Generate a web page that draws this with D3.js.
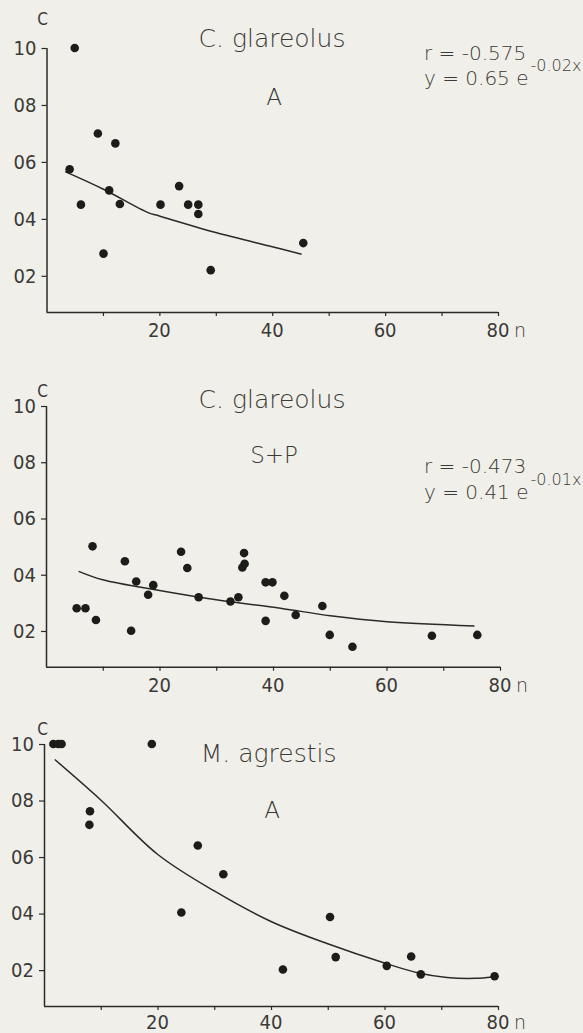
<!DOCTYPE html>
<html>
<head>
<meta charset="utf-8">
<script src="https://cdn.jsdelivr.net/npm/d3@7"></script>
<style>
  html, body { margin: 0; padding: 0; background: #f1efe9; }
  svg { display: block; }
  text { font-family: "DejaVu Sans", Lato, sans-serif; font-weight: 200; fill: #3a3a38; }
  .tick text, .tk { font-family: "DejaVu Sans Condensed", "DejaVu Sans", sans-serif; font-weight: 200; }
</style>
</head>
<body>
<svg id="chart" width="583" height="1033"></svg>
<script>
// ---------- DATA ----------
const xTicks = [10, 20, 30, 40, 50, 60, 70, 80];
const xTickLabels = ["", "20", "", "40", "", "60", "", "80"];
const yTicks = [0.2, 0.4, 0.6, 0.8, 1.0];
const yTickLabels = ["02", "04", "06", "08", "10"];

const panelTitles = ["C. glareolus", "C. glareolus", "M. agrestis"];
const panelSubtitles = ["A", "S+P", "A"];
const panelR = ["r = -0.575", "r = -0.473", ""];
const panelEqMain = ["y = 0.65 e", "y = 0.41 e", ""];
const panelEqExp = ["-0.02x", "-0.01x", ""];

// C. glareolus, A
const p1X = [5, 9.1, 12.2, 4.1, 11.1, 6.1, 13.0, 20.2, 23.5, 25.1, 26.9, 26.9, 10.1, 29.1, 45.5];
const p1Y = [1.0, 0.70, 0.665, 0.574, 0.50, 0.45, 0.452, 0.45, 0.515, 0.45, 0.45, 0.417, 0.278, 0.22, 0.315];
const p1FitX = [3.3, 10, 18, 20, 30, 40, 45.2];
const p1FitY = [0.566, 0.505, 0.422, 0.41, 0.352, 0.302, 0.276];

// C. glareolus, S+P
const p2X = [5.4, 6.95, 8.2, 8.8, 13.9, 15.0, 15.9, 18.0, 18.9, 23.8, 24.9, 26.9, 32.5, 33.9, 34.9, 35.0, 34.6, 38.7, 39.9, 38.7, 42.0, 44.0, 48.7, 50.0, 54.0, 68.0, 76.0];
const p2Y = [0.281, 0.281, 0.501, 0.239, 0.448, 0.201, 0.376, 0.329, 0.363, 0.482, 0.424, 0.32, 0.305, 0.32, 0.477, 0.439, 0.426, 0.373, 0.373, 0.236, 0.325, 0.257, 0.289, 0.186, 0.144, 0.183, 0.186];
const p2FitX = [5.75, 10, 20, 30, 41.3, 50.1, 60.1, 75.5];
const p2FitY = [0.412, 0.382, 0.344, 0.311, 0.281, 0.254, 0.233, 0.218];

// M. agrestis, A
const p3X = [1.65, 2.5, 3.1, 19.0, 8.1, 8.0, 27.1, 31.6, 24.2, 42.1, 50.4, 51.4, 60.4, 64.7, 66.4, 79.4];
const p3Y = [1.0, 1.0, 1.0, 1.0, 0.762, 0.714, 0.641, 0.539, 0.404, 0.202, 0.388, 0.246, 0.215, 0.248, 0.185, 0.178];
const p3FitX = [1.9, 10, 20, 30, 40, 50, 60, 66, 71, 76, 79];
const p3FitY = [0.945, 0.802, 0.61, 0.48, 0.372, 0.293, 0.225, 0.19, 0.174, 0.171, 0.176];

const xDomain = [0, 80];
const yDomain = [0.073, 1.0];

// ---------- LAYOUT ----------
const layout = [
  { xr: [46.5, 498], yr: [312, 48], c: [42.7, 25], title: [272, 47], sub: [274, 105], r: [424, 60], eq: [424, 85] },
  { xr: [46, 500], yr: [666.7, 406], c: [42.7, 397], title: [272, 408], sub: [274, 463], r: [424, 473], eq: [424, 499] },
  { xr: [44, 498], yr: [1006, 744], c: [42.7, 735], title: [268.6, 762], sub: [272, 818], r: null, eq: null }
];

const pointsX = [p1X, p2X, p3X];
const pointsY = [p1Y, p2Y, p3Y];
const fitX = [p1FitX, p2FitX, p3FitX];
const fitY = [p1FitY, p2FitY, p3FitY];

const svg = d3.select("#chart");
const ink = "#2a2a28";

layout.forEach((L, i) => {
  const x = d3.scaleLinear().domain(xDomain).range(L.xr);
  const y = d3.scaleLinear().domain(yDomain).range(L.yr);
  const g = svg.append("g");
  const labY = Math.min(L.yr[0] + 25, 1029);

  // x axis
  const xa = g.append("g")
    .attr("transform", `translate(0,${L.yr[0]})`)
    .call(d3.axisBottom(x).tickValues(xTicks)
      .tickFormat("").tickSize(4).tickSizeOuter(0));
  xa.select(".domain").attr("stroke", ink).attr("stroke-width", 1.5)
    .attr("d", `M${x(0)},0.5H${x(80)}`);
  xa.selectAll(".tick line").attr("stroke", ink).attr("stroke-width", 1.2);
  g.selectAll("text.xl").data(xTicks).enter().append("text")
    .attr("class", "xl tk")
    .attr("x", d => x(d)).attr("y", labY).attr("text-anchor", "middle")
    .style("font-size", "20px").text((d, k) => xTickLabels[k]);
  // "n" unit label
  g.append("text").attr("x", x(80) + 16).attr("y", labY)
    .style("font-size", "19px").text("n");

  // y axis
  const ya = g.append("g")
    .attr("transform", `translate(${x(0)},0)`)
    .call(d3.axisLeft(y).tickValues(yTicks)
      .tickFormat((d, k) => yTickLabels[k]).tickSize(5).tickPadding(5).tickSizeOuter(0));
  ya.select(".domain").attr("stroke", ink).attr("stroke-width", 1.5)
    .attr("d", `M0.5,${y(yDomain[0])}V${y(1.0)}`);
  ya.selectAll(".tick line").attr("stroke", ink).attr("stroke-width", 1.2);
  ya.selectAll(".tick text").style("font-size", "20px").attr("fill", "#3a3a38");

  // axis label C
  g.append("text").attr("x", L.c[0]).attr("y", L.c[1]).attr("text-anchor", "middle")
    .attr("class", "tk").style("font-size", "17px").text("C");

  // titles
  g.append("text").attr("x", L.title[0]).attr("y", L.title[1]).attr("text-anchor", "middle")
    .style("font-size", "25px").text(panelTitles[i]);
  g.append("text").attr("x", L.sub[0]).attr("y", L.sub[1]).attr("text-anchor", "middle")
    .style("font-size", "23px").text(panelSubtitles[i]);

  if (L.r) {
    g.append("text").attr("x", L.r[0]).attr("y", L.r[1])
      .style("font-size", "20px").text(panelR[i]);
    const eq = g.append("text").attr("x", L.eq[0]).attr("y", L.eq[1]).style("font-size", "20px");
    eq.append("tspan").text(panelEqMain[i]);
    eq.append("tspan").attr("dy", -14).attr("dx", 2).style("font-size", "16px").text(panelEqExp[i]);
  }

  // fit line
  const fit = fitX[i].map((v, k) => [v, fitY[i][k]]);
  g.append("path").datum(fit)
    .attr("fill", "none").attr("stroke", ink).attr("stroke-width", 1.5)
    .attr("d", d3.line().x(d => x(d[0])).y(d => y(d[1])).curve(d3.curveCatmullRom.alpha(0.5)));

  // points
  const pts = pointsX[i].map((v, k) => [v, pointsY[i][k]]);
  g.selectAll("circle.pt").data(pts).enter().append("circle")
    .attr("class", "pt")
    .attr("cx", d => x(d[0])).attr("cy", d => y(d[1])).attr("r", 4.3)
    .attr("fill", "#1c1c1a");
});
</script>
</body>
</html>
